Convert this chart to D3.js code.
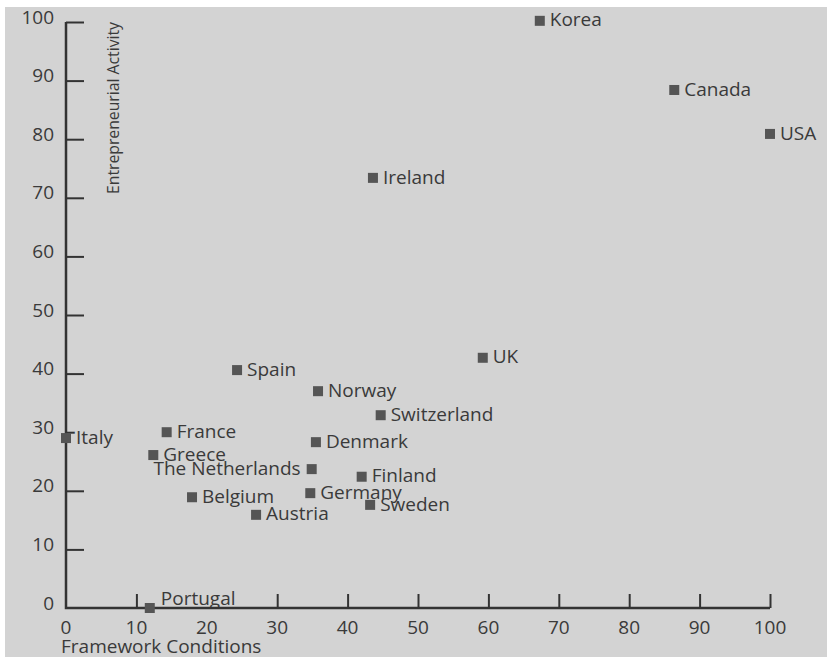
<!DOCTYPE html>
<html><head><meta charset="utf-8">
<script src="https://cdn.jsdelivr.net/npm/d3@7"></script>
<style>body{margin:0;background:#fff}svg{display:block}text{font-family:"Open Sans",sans-serif;fill:#3a3a3a}</style>
</head><body><svg id="c" width="827" height="660"></svg>
<script>
const countries = ["Korea","Canada","USA","Ireland","UK","Spain","Norway","Switzerland","France","Italy","Denmark","Greece","The Netherlands","Finland","Germany","Belgium","Sweden","Austria","Portugal"];
const frameworkConditions = [67.3,86.4,100,43.6,59.2,24.3,35.8,44.7,14.3,0,35.5,12.4,34.9,42.0,34.7,17.9,43.2,27.0,11.9];
const entrepreneurialActivity = [100.2,88.4,80.9,73.4,42.7,40.6,37.0,32.9,30.0,29.0,28.3,26.1,23.7,22.4,19.6,18.9,17.6,15.9,0];
const labelSide = ["right","right","right","right","right","right","right","right","right","right","right","right","left","right","right","right","right","right","above"];
const xTicks = [0,10,20,30,40,50,60,70,80,90,100];
const yTicks = [0,10,20,30,40,50,60,70,80,90,100];

const BG = "#d3d3d3";
const FS = 19;
const svg = d3.select("#c");
svg.append("rect").attr("x",5).attr("y",7).attr("width",822).attr("height",650).attr("fill",BG);

const x = d3.scaleLinear().domain([0,100]).range([66,770]);
const y = d3.scaleLinear().domain([0,100]).range([608,22]);

// y axis ticks
const ya = svg.append("g").attr("transform","translate(66,0)")
  .call(d3.axisRight(y).tickValues(yTicks).tickSize(18).tickFormat(""));
ya.select(".domain").remove();
ya.selectAll(".tick line").attr("stroke","#333").attr("stroke-width",2);
ya.selectAll(".tick").filter(d=>d===0).remove();
svg.append("g").selectAll("text").data(yTicks).join("text")
  .attr("x",54).attr("y",d=>y(d)-5).attr("dy","0.35em").attr("text-anchor","end")
  .attr("font-size",FS).text(d=>d);

// x axis ticks
const xa = svg.append("g").attr("transform","translate(0,608)")
  .call(d3.axisTop(x).tickValues(xTicks).tickSize(14).tickFormat(""));
xa.select(".domain").remove();
xa.selectAll(".tick line").attr("stroke","#333").attr("stroke-width",2);
xa.selectAll(".tick").filter(d=>d===0).remove();
svg.append("g").selectAll("text").data(xTicks).join("text")
  .attr("x",d=>x(d)).attr("y",627).attr("dy","0.35em").attr("text-anchor","middle")
  .attr("font-size",FS).text(d=>d);

// titles
svg.append("text").attr("x",61).attr("y",646).attr("dy","0.35em").attr("font-size",FS).text("Framework Conditions");
svg.append("text").attr("transform",`translate(113,22) rotate(-90)`).attr("text-anchor","end")
  .attr("dy","0.35em").attr("font-size",16).attr("textLength",172).attr("lengthAdjust","spacingAndGlyphs").text("Entrepreneurial Activity");

// labels
const data = countries.map((c,i)=>({c, fx:frameworkConditions[i], ea:entrepreneurialActivity[i], side:labelSide[i]}));
const g = svg.append("g");
g.selectAll("text").data(data).join("text")
  .attr("x",d=>d.side==="left"? x(d.fx)-11 : d.side==="above"? x(d.fx)+11 : x(d.fx)+10)
  .attr("y",d=>d.side==="above"? y(d.ea)-10 : y(d.ea)-1)
  .attr("dy","0.35em")
  .attr("text-anchor",d=>d.side==="left"?"end":"start")
  .attr("stroke",d=>(d.side==="above"||d.fx===0)?BG:"none").attr("stroke-width",6).attr("paint-order","stroke")
  .attr("font-size",FS).text(d=>d.c);

// axis lines
svg.append("path").attr("d",`M${x(0)},${y(100)}V${y(0)}H${x(100)}`)
  .attr("fill","none").attr("stroke","#333").attr("stroke-width",2.5);

// markers
svg.append("g").selectAll("rect").data(data).join("rect")
  .attr("x",d=>x(d.fx)-5).attr("y",d=>y(d.ea)-5).attr("width",10).attr("height",10).attr("fill","#555");
</script></body></html>
